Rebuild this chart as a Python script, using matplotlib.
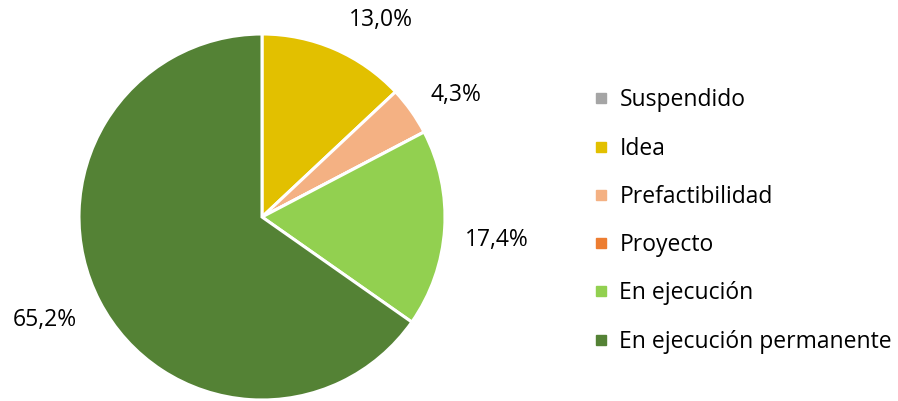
import matplotlib
matplotlib.use('Agg')
import matplotlib.pyplot as plt
from matplotlib.lines import Line2D

# datos
categorias=['Suspendido','Idea','Prefactibilidad','Proyecto','En ejecución','En ejecución permanente']
valores=[0.0,13.0,4.3,0.0,17.4,65.2]
colores=['#A5A5A5','#E2C000','#F4B183','#ED7D31','#92D050','#548235']
etiquetas=['','13,0%','4,3%','','17,4%','65,2%']
#posicion de etiquetas (coordenadas del eje, radio=1)
pos_etiquetas=[None,(0.650,1.077),(1.060,0.667),None,(1.284,-0.126),(-1.186,-0.563)]

plt.rcParams['font.family']=['Open Sans','DejaVu Sans']
fs=16.5

fig=plt.figure(figsize=(8.98,4.01),dpi=100)
cx,cy,r=262,217,183
ax=fig.add_axes([(cx-r)/898,(401-cy-r)/401,2*r/898,2*r/401])
vals=[v if v>0 else 1e-9 for v in valores]
ax.pie(vals,colors=colores,startangle=90,counterclock=False,radius=1,
       wedgeprops=dict(edgecolor='white',linewidth=2.2))
for t,p in zip(etiquetas,pos_etiquetas):
    if p is None:
        continue
    ax.text(p[0],p[1],t,ha='center',va='center',fontsize=fs,color='#000000')
ax.set_xlim(-1,1)
ax.set_ylim(-1,1)
ax.set_aspect('equal')
ax.axis('off')

handles=[Line2D([],[],marker='s',linestyle='none',markersize=6.5,
                markerfacecolor=c,markeredgecolor=c) for c in colores]
fig.legend(handles,categorias,loc='center left',bbox_to_anchor=(593/898,1-221/401),
           frameon=False,fontsize=fs,labelspacing=1.06,handlelength=0.7,
           handletextpad=0.45,borderpad=0,borderaxespad=0)

fig.savefig('out.png',dpi=100)
